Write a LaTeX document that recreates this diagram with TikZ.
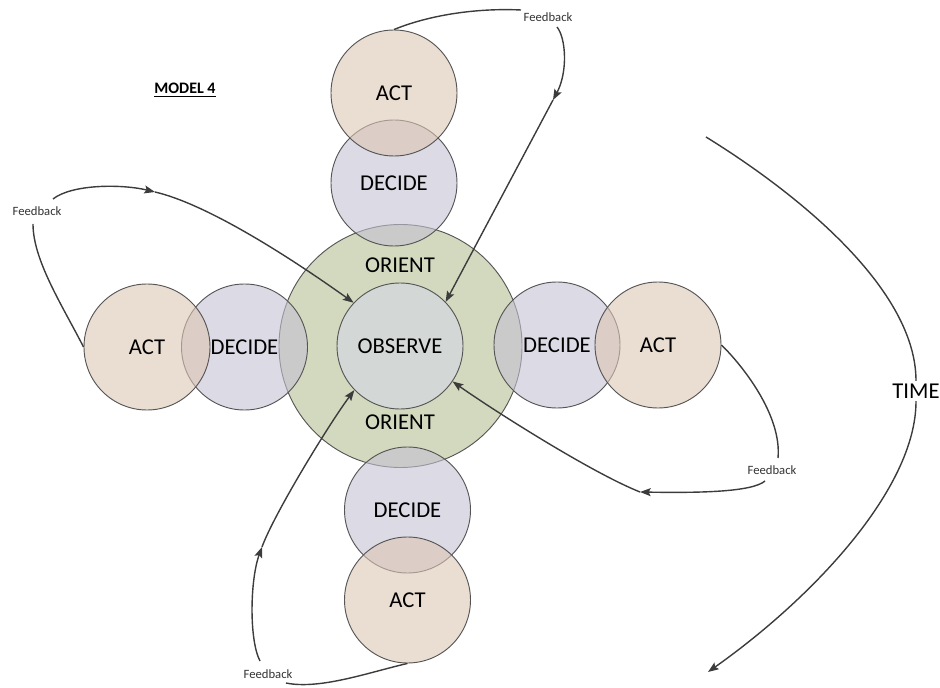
\documentclass[tikz,border=0pt]{standalone}
\usepackage{fontspec}
\setmainfont{Carlito}
\usetikzlibrary{arrows.meta}
\definecolor{actcol}{RGB}{220,198,180}
\definecolor{deccol}{RGB}{197,193,210}
\definecolor{oricol}{RGB}{182,192,148}
\definecolor{obscol}{RGB}{211,216,214}
\definecolor{edgec}{RGB}{85,85,85}
\definecolor{linec}{RGB}{60,60,60}
\tikzset{
  circ/.style={circle, draw=edgec, line width=0.7pt, minimum size=94.5pt, inner sep=0pt,
    text opacity=1, font=\fontsize{17}{20}\selectfont},
  actcirc/.style={circ, fill=actcol, fill opacity=0.6},
  deccirc/.style={circ, fill=deccol, fill opacity=0.6},
  oricirc/.style={circ, fill=oricol, fill opacity=0.6, minimum size=182.25pt},
  obscirc/.style={circ, fill=obscol},
  bigtext/.style={font=\fontsize{17}{20}\selectfont, inner sep=1pt},
  fbline/.style={draw=linec, line width=1.05pt},
  fbarrow/.style={fbline, -{Stealth[length=8pt,width=6pt,inset=1.5pt]}},
  fblabel/.style={font=\fontsize{9.5}{11}\selectfont, text=black!80, inner sep=0.5pt},
}
\begin{document}
\begin{tikzpicture}[x=0.75pt,y=-0.75pt]
\useasboundingbox (0,0) rectangle (940,688);

% circles
\node[oricirc] (orient) at (400.5,346) {};
\node[obscirc] (obs) at (400,346) {OBSERVE};
\node[bigtext] (oriT) at (400,265) {ORIENT};
\node[bigtext] (oriB) at (400,422) {ORIENT};

\node[deccirc] (decT) at (394,183) {DECIDE};
\node[actcirc] (actT) at (394,93) {ACT};
\node[deccirc] (decL) at (244.5,347) {DECIDE};
\node[actcirc] (actL) at (147,347) {ACT};
\node[deccirc] (decR) at (557,345) {DECIDE};
\node[actcirc] (actR) at (658,345) {ACT};
\node[deccirc] (decB) at (407.5,510) {DECIDE};
\node[actcirc] (actB) at (407.5,600) {ACT};

% title
\node[font=\bfseries\fontsize{12}{14}\selectfont] (title) at (185,90) {\underline{MODEL 4}};

% feedback labels
\node[fblabel] (fbT) at (548,17) {Feedback};
\node[fblabel] (fbL) at (37,211) {Feedback};
\node[fblabel] (fbR) at (772,470) {Feedback};
\node[fblabel] (fbB) at (268,674) {Feedback};

% top feedback loop
\coordinate (t1) at (521,10);
\coordinate (t2) at (557,27);
\coordinate (t3) at (553,100);
\draw[fbline] (actT.north) .. controls (432,14) and (480,8) .. (t1);
\draw[fbarrow] (t2) .. controls (566,38) and (568,72) .. (t3);
\draw[fbarrow] (t3) -- (obs.44);

% left feedback loop
\coordinate (l1) at (33,224);
\coordinate (l2) at (53,199);
\coordinate (l3) at (155,192);
\draw[fbline] (actL.west) .. controls (62,305) and (33,260) .. (l1);
\draw[fbarrow] (l2) .. controls (72,184) and (122,184) .. (l3);
\draw[fbarrow] (l3) .. controls (215,206) and (312,273) .. (obs.137);

% right feedback loop
\coordinate (r1) at (778,458);
\coordinate (r2) at (765,481);
\coordinate (r3) at (640,492);
\draw[fbline] (actR.east) .. controls (742,365) and (782,415) .. (r1);
\draw[fbarrow] (r2) .. controls (752,492) and (700,493) .. (r3);
\draw[fbarrow] (r3) .. controls (590,472) and (490,408) .. (obs.-34);

% bottom feedback loop
\coordinate (b1) at (286,683);
\coordinate (b2) at (260,661);
\coordinate (b3) at (262,547);
\draw[fbline] (actB.south) .. controls (370,672) and (320,690) .. (b1);
\draw[fbarrow] (b2) .. controls (249,640) and (250,580) .. (b3);
\draw[fbarrow] (b3) .. controls (274,514) and (329,424) .. (obs.224);

% time arc
\node[bigtext, fill=white, inner sep=2pt] (time) at (916,391) {TIME};
\coordinate (tS) at (706,137);
\coordinate (tE) at (708,672);
\draw[fbline] (tS) .. controls (800,195) and (916,290) .. (time.north);
\draw[fbarrow] (time.south) .. controls (916,490) and (810,600) .. (tE);
\end{tikzpicture}
\end{document}
